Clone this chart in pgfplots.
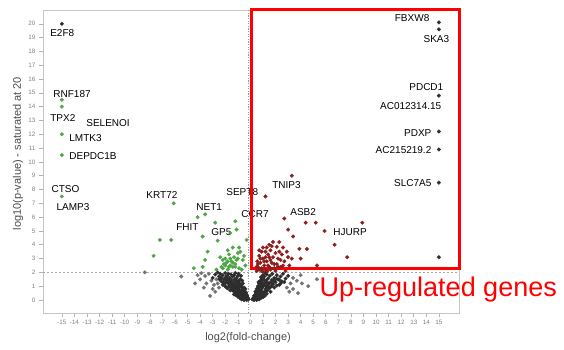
\documentclass[border=0pt]{standalone}
\usepackage{pgfplots}
\pgfplotsset{compat=1.18}
\usepackage{fontspec}
\setmainfont{Liberation Sans}
\definecolor{ptgreen}{RGB}{80,165,70}
\definecolor{ptred}{RGB}{140,30,30}
\definecolor{ptblack}{RGB}{45,45,45}
\definecolor{ptgrey}{RGB}{115,115,115}
\definecolor{lbl}{RGB}{75,75,75}
\begin{document}
\begin{tikzpicture}
\begin{axis}[
  at={(43pt,37pt)}, anchor=south west,
  width=416pt, height=303pt, scale only axis,
  xmin=-16.5, xmax=16.6, ymin=-0.94, ymax=21.0,
  xtick={-15,...,15}, ytick={0,...,20},
  /pgf/number format/assume math mode=true,
  axis line style={gray!45, line width=0.8pt},
  tick style={gray!60, line width=0.6pt},
  major tick length=4pt, tick align=outside,
  xtick pos=bottom, ytick pos=left,
  xticklabel style={font=\fontsize{6.3}{7}\selectfont, text=gray},
  yticklabel style={font=\fontsize{6.3}{7}\selectfont, text=gray},
  xlabel={log2(fold-change)},
  xlabel style={at={(axis description cs:0.493,0)}, anchor=base, yshift=-28pt, font=\fontsize{11}{13}\selectfont, text=lbl},
  ylabel={log10(p-value) - saturated at 20},
  ylabel style={at={(axis description cs:-0.060,0.526)}, anchor=center, rotate=0, font=\fontsize{11}{13}\selectfont, text=lbl},
  clip=false,
]
% scattered grey
\addplot[only marks, mark=*, mark size=1.9pt, color=ptgrey, mark options={solid, draw=ptgrey, fill=ptgrey, line width=0.2pt}] coordinates {
(-8.4,2.0) (-5.5,1.7) (-3.2,0.3) (-4.0,1.5) (-4.4,1.2) (-3.7,0.9) (-2.8,0.6) (-3.1,1.4) (-2.9,1.1) (-3.5,1.2)
(-2.7,1.5) (-4.2,1.8) (-3.9,1.95) (-2.5,0.9) (-3.3,1.9) (-3.6,1.75) (-2.6,1.2) (-3.0,0.8)
(3.4,0.8) (4.1,1.2) (4.6,1.0) (5.3,1.5) (3.8,0.5) (2.9,0.9) (3.2,1.2) (3.4,1.6) (3.7,1.4) (4.0,1.8) (3.1,0.6)
};
% non-significant cloud (black)
\addplot[only marks, mark=*, mark size=1.9pt, color=ptblack, mark options={solid, draw=ptblack, fill=ptblack, line width=0.2pt}] coordinates {
(-0.15,0.05) (-0.2,0.15) (-0.3,0.1) (-0.25,0.3) (-0.4,0.2) (-0.35,0.45) (-0.5,0.3) (-0.45,0.6) (-0.55,0.5) (-0.6,0.75)
(-0.7,0.4) (-0.65,0.9) (-0.75,0.65) (-0.8,1.0) (-0.85,0.55) (-0.9,0.8) (-0.95,1.2) (-1.0,0.7) (-1.05,1.0) (-1.1,1.35)
(-1.15,0.85) (-1.2,1.15) (-1.25,1.5) (-1.3,0.95) (-1.35,1.3) (-1.4,1.7) (-1.45,1.1) (-1.5,1.45) (-1.55,1.85) (-1.6,1.2)
(-1.65,1.6) (-1.7,1.35) (-1.75,1.9) (-1.8,1.5) (-1.85,1.75) (-1.9,1.3) (-1.95,1.65) (-2.0,1.95) (-2.1,1.5) (-2.2,1.8)
(-2.3,1.6) (-2.4,1.9) (-2.5,1.7) (-2.6,2.0) (-2.8,1.85) (-3.0,1.6) (-0.35,0.55) (-0.5,0.9) (-0.7,1.1) (-0.9,1.4)
(-1.1,1.6) (-1.3,1.8) (-0.4,0.8) (-0.6,1.2) (-0.8,1.5) (-1.0,1.75) (-1.2,1.95) (-0.65,1.4) (-0.75,1.75) (-0.95,1.9)
(-1.45,0.75) (-1.7,1.0) (-2.0,1.2) (-2.3,1.35) (-1.9,0.9)
(-0.3,0.0) (-0.45,0.1) (-0.6,0.15) (-0.75,0.2) (-0.9,0.3) (-1.05,0.45) (-1.2,0.55) (-1.35,0.65) (-1.5,0.9) (-1.65,1.1)
(-0.5,0.0) (-0.7,0.05) (-0.85,0.15) (-1.0,0.25) (-1.15,0.35) (-1.3,0.4) (-1.6,0.7) (-1.8,0.85) (-2.0,1.0) (-2.2,1.1)
(-0.55,0.2) (-0.8,0.3) (-1.1,0.55) (-1.25,0.75) (-0.95,0.5) (-0.65,0.3) (-1.4,0.9) (-1.55,1.3) (-1.75,1.2) (-1.95,1.45)
(-2.15,1.3) (-2.45,1.5) (-0.4,0.35) (-0.7,0.55) (-1.0,0.9) (-1.3,1.1) (-0.85,1.2) (-1.15,1.45) (-0.6,0.6) (-0.9,1.05)
(0.15,0.05) (0.25,0.15) (0.3,0.3) (0.4,0.2) (0.45,0.5) (0.5,0.35) (0.55,0.7) (0.6,0.45) (0.7,0.9) (0.75,0.6)
(0.8,1.1) (0.85,0.75) (0.9,1.3) (0.95,0.9) (1.0,1.5) (1.05,1.05) (1.1,1.7) (1.15,1.2) (1.2,0.8) (1.25,1.4)
(1.3,1.85) (1.35,1.0) (1.4,1.55) (1.5,1.25) (1.55,1.75) (1.6,0.95) (1.7,1.45) (1.75,1.9) (1.8,1.15) (1.9,1.6)
(2.0,1.3) (2.1,1.8) (2.2,1.5) (2.3,1.1) (2.4,1.7) (2.5,1.35) (2.6,1.9) (2.8,1.55) (3.0,1.75) (0.6,1.0)
(0.8,1.4) (1.0,1.8) (0.65,1.3) (0.85,1.65) (0.5,0.8) (0.7,1.2) (0.9,1.6) (1.2,1.95) (0.4,0.6)
(0.3,0.0) (0.45,0.1) (0.6,0.15) (0.75,0.25) (0.9,0.35) (1.05,0.45) (1.2,0.6) (1.35,0.7) (1.5,0.85) (1.7,1.0)
(0.5,0.0) (0.7,0.05) (0.85,0.15) (1.0,0.2) (1.15,0.3) (1.3,0.45) (1.6,0.6) (1.9,0.9) (2.1,1.05) (2.4,1.2)
(0.55,0.2) (0.8,0.4) (1.1,0.6) (1.4,0.95) (0.95,0.55) (0.65,0.3) (1.25,1.0) (1.45,1.15) (1.65,1.25) (1.85,1.4)
(2.05,1.55) (2.3,1.45) (0.4,0.4) (0.7,0.65) (1.0,1.2) (1.3,1.25) (0.85,1.0) (1.1,1.45) (0.6,0.75) (2.7,1.3)
};
% down-regulated (green)
\addplot[only marks, mark=*, mark size=1.9pt, color=ptgreen, mark options={solid, draw=ptgreen, fill=ptgreen, line width=0.2pt}] coordinates {
(-15,14.5) (-15,14.0) (-15,12.0) (-15,10.5) (-15,7.5)
(-7.7,3.2) (-7.2,4.35) (-6.3,4.35) (-6.1,7.0) (-4.2,6.0) (-3.6,6.2) (-3.8,4.6) (-2.8,5.6) (-2.6,4.3) (-3.4,3.5)
(-3.6,2.9) (-3.8,2.4) (-4.5,2.3) (-1.2,5.7) (-1.1,5.1) (-1.6,4.85) (-2.0,3.0) (-1.9,2.7) (-1.6,2.5) (-1.4,2.4)
(-1.0,3.4) (-1.0,3.0) (-2.3,2.4) (-2.7,2.2) (-0.8,3.5) (-0.3,4.35) (-1.4,3.8)
(-1.8,2.2) (-1.5,2.8) (-1.2,2.6) (-0.9,2.3) (-0.6,2.9) (-0.5,3.2) (-1.3,3.1) (-1.7,3.3) (-0.7,2.2) (-2.1,2.6)
(-0.4,2.5) (-0.9,3.8) (-1.8,3.6)
(-2.4,3.1) (-2.2,2.9) (-2.0,2.5) (-1.8,2.8) (-1.6,3.0) (-1.4,2.7) (-1.2,2.4) (-1.1,2.9) (-2.2,2.3) (-1.7,2.4)
};
% up-regulated (red)
\addplot[only marks, mark=*, mark size=1.9pt, color=ptred, mark options={solid, draw=ptred, fill=ptred, line width=0.2pt}] coordinates {
(1.2,7.5) (3.3,9.0) (2.7,5.9) (3.0,5.1) (3.4,4.6) (4.4,5.6) (5.2,5.6) (5.9,5.0) (8.9,5.6) (6.7,4.0)
(7.7,3.1) (3.9,3.7) (4.0,3.0) (4.5,3.7) (5.3,2.5)
(0.5,2.1) (0.6,2.4) (0.7,2.2) (0.8,2.7) (0.9,2.3) (1.0,3.0) (1.1,2.5) (1.2,2.2) (1.3,2.8) (1.4,3.3)
(1.5,2.4) (1.6,3.6) (1.7,2.7) (1.8,3.1) (1.9,2.3) (2.0,3.4) (2.1,2.6) (2.2,3.0) (2.4,2.4) (2.5,3.3)
(2.7,2.8) (2.9,3.5) (3.1,2.5) (0.7,3.2) (1.0,3.8) (1.2,3.5) (0.9,3.5) (1.5,4.0) (1.8,4.2) (2.3,4.2)
(2.1,3.85) (2.6,3.8) (1.0,2.05) (0.55,2.8) (1.35,2.1) (2.8,2.1) (3.3,3.0)
(0.6,2.6) (0.8,3.0) (0.9,2.1) (1.1,2.8) (1.2,3.1) (1.4,2.5) (1.6,2.2) (1.6,2.9) (1.9,2.6) (2.0,2.1)
(2.2,2.4) (2.4,2.9) (2.6,2.5) (3.0,3.1) (0.7,3.6) (1.3,3.8) (1.7,3.9) (0.5,2.4) (1.5,3.1) (2.3,3.5)
};
% saturated / extreme points (dark)
\addplot[only marks, mark=*, mark size=1.9pt, color=ptblack, mark options={solid, draw=ptblack, fill=ptblack, line width=0.2pt}] coordinates {
(15,20.1) (15,19.6) (15,14.8) (15,12.2) (15,10.9) (15,8.5) (15,3.1) (-15,20.0)
};
% threshold lines
\draw[gray!70, line width=0.8pt, dash pattern=on 2pt off 2pt] (axis cs:-16.5,2) -- (axis cs:16.6,2);
\draw[gray!80, line width=1.3pt, dash pattern=on 1.2pt off 1.4pt] (axis cs:-0.15,-0.94) -- (axis cs:-0.15,21.0);
% gene labels
\begingroup
\tikzset{every node/.style={font=\fontsize{11}{13}\selectfont, text=lbl, inner sep=0pt}}
\node[anchor=west] at (axis cs:-16.2,19.35) {E2F8};
\node[anchor=west] at (axis cs:-15.95,14.9) {RNF187};
\node[anchor=west] at (axis cs:-16.2,13.2) {TPX2};
\node[anchor=west] at (axis cs:-13.33,12.8) {SELENOI};
\node[anchor=west] at (axis cs:-14.68,11.7) {LMTK3};
\node[anchor=west] at (axis cs:-14.68,10.4) {DEPDC1B};
\node[anchor=west] at (axis cs:-16.1,8.0) {CTSO};
\node[anchor=west] at (axis cs:-15.7,6.7) {LAMP3};
\node[anchor=west] at (axis cs:-8.55,7.6) {KRT72};
\node[anchor=west] at (axis cs:-4.57,6.7) {NET1};
\node[anchor=west] at (axis cs:-6.17,5.3) {FHIT};
\node[anchor=west] at (axis cs:-3.38,4.9) {GP5};
\node[anchor=west] at (axis cs:-2.19,7.8) {SEPT8};
\node[anchor=west] at (axis cs:-0.99,6.2) {CCR7};
\node[anchor=west] at (axis cs:1.47,8.3) {TNIP3};
\node[anchor=west] at (axis cs:2.9,6.4) {ASB2};
\node[anchor=west] at (axis cs:6.32,4.9) {HJURP};
\node[anchor=east] at (axis cs:14.52,20.4) {FBXW8};
\node[anchor=east] at (axis cs:16.1,18.9) {SKA3};
\node[anchor=east] at (axis cs:15.63,15.4) {PDCD1};
\node[anchor=east] at (axis cs:15.47,14.06) {AC012314.15};
\node[anchor=east] at (axis cs:14.68,12.1) {PDXP};
\node[anchor=east] at (axis cs:14.68,10.87) {AC215219.2};
\node[anchor=east] at (axis cs:14.68,8.5) {SLC7A5};
\endgroup
% highlight box
\draw[red, line width=3pt] (axis cs:0.1,2.3) rectangle (axis cs:16.65,21.0);
\node[anchor=base west, inner sep=0pt, text=red, font=\fontsize{27}{30}\selectfont] at (axis cs:5.5,0.29) {Up-regulated genes};
\end{axis}
\pgfresetboundingbox
\useasboundingbox (0,0) rectangle (564pt,350pt);
\end{tikzpicture}
\end{document}
